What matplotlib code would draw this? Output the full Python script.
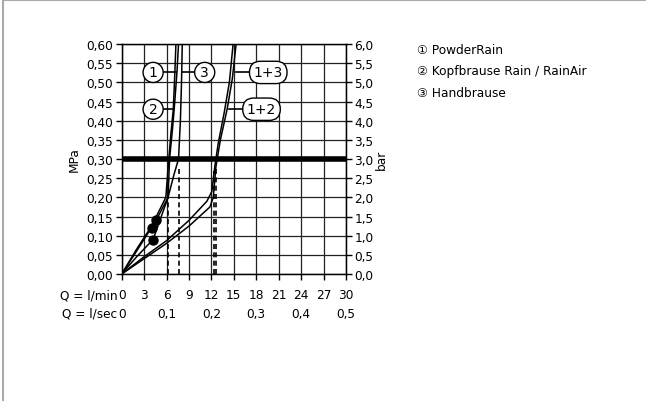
import matplotlib
matplotlib.use("Agg")
import matplotlib.pyplot as plt
from matplotlib.ticker import FuncFormatter
from matplotlib.lines import Line2D
import numpy as np

# flow (l/min) vs pressure (MPa)
q1 = [0, 2.0, 4.6, 6.2, 6.4, 6.8, 7.1, 7.4, 7.6]
p1 = [0, 0.06, 0.14, 0.20, 0.30, 0.38, 0.45, 0.53, 0.60]
q2 = [0, 2.0, 4.0, 5.9, 6.3, 6.6, 6.9, 7.1, 7.25]
p2 = [0, 0.065, 0.125, 0.20, 0.30, 0.37, 0.43, 0.52, 0.60]
q3 = [0, 2.0, 4.2, 6.2, 7.0, 7.6, 7.85, 8.0, 8.1]
p3 = [0, 0.045, 0.09, 0.20, 0.26, 0.30, 0.40, 0.50, 0.60]
q12 = [0, 3.0, 6.0, 9.0, 11.4, 12.05, 12.45, 12.9, 13.7, 14.4, 14.9]
p12 = [0, 0.045, 0.087, 0.14, 0.19, 0.215, 0.28, 0.34, 0.42, 0.50, 0.60]
q13 = [0, 3.0, 6.0, 9.0, 11.8, 12.25, 12.6, 13.2, 14.1, 14.8, 15.3]
p13 = [0, 0.04, 0.08, 0.125, 0.175, 0.20, 0.28, 0.35, 0.43, 0.51, 0.60]

dot_q = [4.6, 4.0, 4.2]
dot_p = [0.14, 0.12, 0.09]

dash_q = [6.2, 7.6, 12.4, 12.6]
dash_top = [0.20, 0.28, 0.27, 0.28]

min_ticks = [0, 3, 6, 9, 12, 15, 18, 21, 24, 27, 30]
sec_ticks = [0, 6, 12, 18, 24, 30]
sec_labels = ["0", "0,1", "0,2", "0,3", "0,4", "0,5"]

legend_items = ["\u2460 PowderRain", "\u2461 Kopfbrause Rain / RainAir", "\u2462 Handbrause"]

# curve tags: text, label x/y, leader start/end x
tags = [("1", 4.2, 0.526, 5.4, 7.3),
        ("3", 11.1, 0.526, 9.9, 8.0),
        ("1+3", 19.6, 0.526, 17.0, 15.3),
        ("2", 4.2, 0.43, 5.4, 7.0),
        ("1+2", 18.7, 0.43, 16.3, 14.3)]

plt.rcParams['font.family'] = ['DejaVu Sans']
fs = 8.7

fig = plt.figure(figsize=(6.46, 4.02), dpi=100)
# grey frame only on top and left, like the source page
fig.lines.append(Line2D([0.0045, 0.0045, 1.0], [0.0, 0.997, 0.997], transform=fig.transFigure,
                        color="#aaaaaa", lw=1.5))
ax = fig.add_axes([0.1884, 0.3159, 0.3472, 0.572])

for q, p in [(q1, p1), (q2, p2), (q3, p3), (q12, p12), (q13, p13)]:
    ax.plot(q, p, color="black", lw=1.1, zorder=4)
ax.plot(dot_q, dot_p, "o", color="black", ms=6.5, zorder=5)
ax.vlines(dash_q, 0, dash_top, colors="black", linestyles=(0, (3, 2)), lw=1.2, zorder=3)
ax.axhline(0.30, color="black", lw=4, zorder=3)

for txt, x, y, x0, x1 in tags:
    ax.plot([x0, x1], [y, y], color="black", lw=1.2, zorder=5)
    style = "circle,pad=0.22" if len(txt) == 1 else "round,pad=0.3,rounding_size=0.8"
    ax.text(x, y, txt, ha="center", va="center", fontsize=10, zorder=6,
            bbox=dict(boxstyle=style, fc="white", ec="black", lw=1.0))

ax.set_xlim(0, 30)
ax.set_ylim(0, 0.6)
ax.set_xticks(min_ticks)
ax.set_yticks(np.arange(0, 0.601, 0.05))
ax.yaxis.set_major_formatter(FuncFormatter(lambda v, pos: f"{v:.2f}".replace(".", ",")))
ax.set_xticklabels([])
ax.grid(True, color="#222222", lw=0.9)
ax.set_axisbelow(True)
for s in ax.spines.values():
    s.set_linewidth(1.0)
ax.tick_params(direction="out", length=4, width=1, labelsize=fs, colors="black", pad=2)
ax.set_ylabel("MPa", fontsize=fs, labelpad=4)

ax2 = ax.twinx()
ax2.set_ylim(0, 6)
ax2.set_yticks(np.arange(0, 6.01, 0.5))
ax2.yaxis.set_major_formatter(FuncFormatter(lambda v, pos: f"{v:.1f}".replace(".", ",")))
ax2.tick_params(direction="out", length=4, width=1, labelsize=fs, pad=2)
ax2.set_ylabel("bar", fontsize=fs, rotation=90, labelpad=1)

tr = ax.get_xaxis_transform()
for t in min_ticks:
    ax.text(t, -0.09, str(t), transform=tr, ha="center", va="center", fontsize=fs)
for t, lab in zip(sec_ticks, sec_labels):
    ax.text(t, -0.17, lab, transform=tr, ha="center", va="center", fontsize=fs)
ax.text(-0.6, -0.09, "Q = l/min", transform=tr, ha="right", va="center", fontsize=fs)
ax.text(-0.6, -0.17, "Q = l/sec", transform=tr, ha="right", va="center", fontsize=fs)

for i, item in enumerate(legend_items):
    fig.text(0.645, 0.875 - i * 0.054, item, ha="left", va="center", fontsize=8.7)

fig.savefig("out.png", dpi=100)
